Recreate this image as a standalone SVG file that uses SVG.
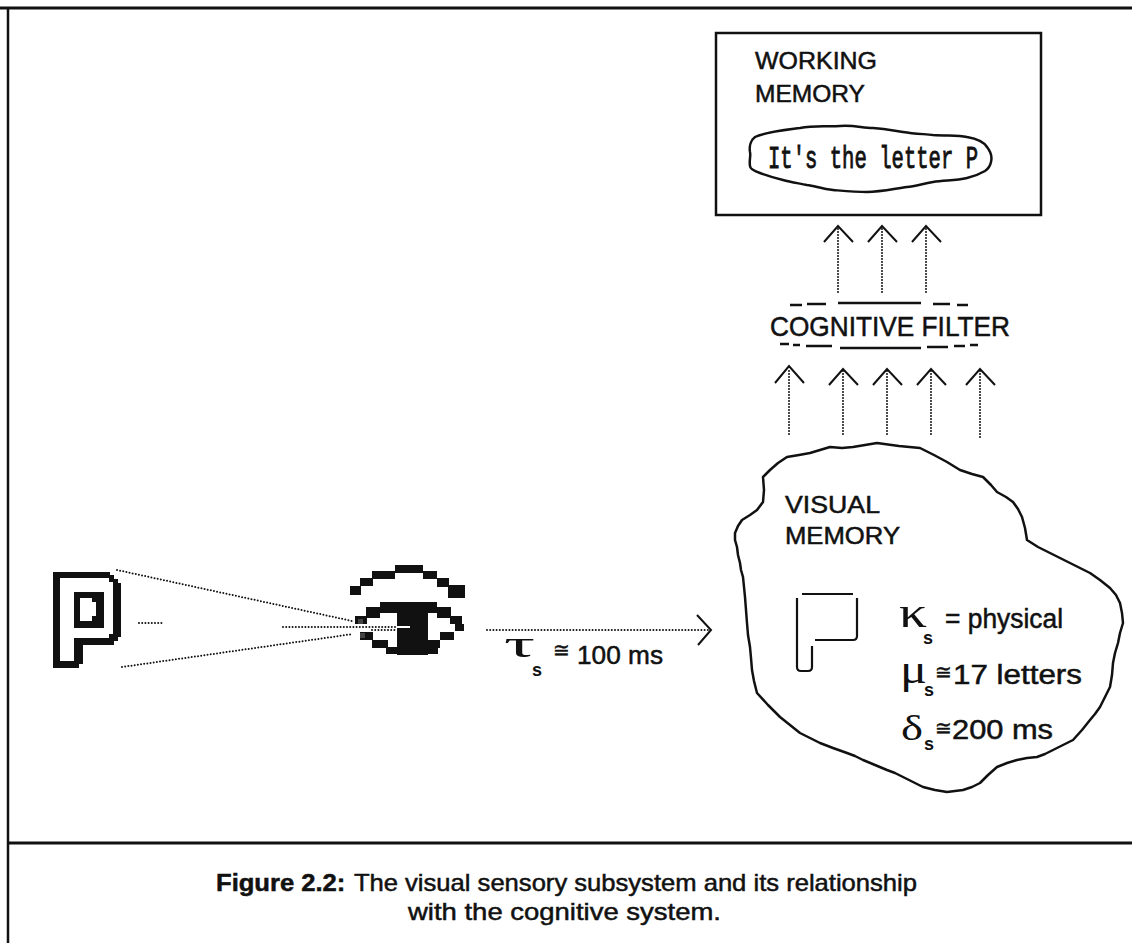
<svg xmlns="http://www.w3.org/2000/svg" width="1132" height="943" viewBox="0 0 1132 943">
<style>
.t{font-family:"Liberation Sans",Arial,sans-serif;fill:#111;stroke:#111;stroke-width:0.5}
.g{font-family:"Liberation Serif","DejaVu Serif",serif;fill:#111}
.m{font-family:"Liberation Mono","DejaVu Sans Mono",monospace;fill:#111;stroke:#111;stroke-width:0.9}
.sub{font-family:"Liberation Sans",Arial,sans-serif;font-weight:bold;font-size:18px;fill:#111}
.ln{fill:none;stroke:#111;stroke-width:2.5}
.dot{fill:none;stroke:#111;stroke-width:2;stroke-dasharray:0 3.2;stroke-linecap:round}
.vdot{fill:none;stroke:#111;stroke-width:2;stroke-dasharray:0 3;stroke-linecap:round}
.head{fill:none;stroke:#111;stroke-width:2;stroke-linejoin:miter}
.px{fill:#111}
</style>
<rect width="1132" height="943" fill="#fff"/>
<g id="frame">
<line x1="0" y1="8" x2="1132" y2="8" stroke="#111" stroke-width="3"/>
<line x1="8" y1="7" x2="8" y2="943" stroke="#111" stroke-width="2.5"/>
<line x1="8" y1="843" x2="1132" y2="843" stroke="#111" stroke-width="3"/>
</g>
<g id="working-memory">
<rect x="716" y="33" width="325" height="182" class="ln"/>
<text class="t" x="755" y="69" font-size="24" textLength="122" lengthAdjust="spacingAndGlyphs">WORKING</text>
<text class="t" x="755" y="102" font-size="24" textLength="110" lengthAdjust="spacingAndGlyphs">MEMORY</text>
<path class="ln" d="M755,137 C765,132 785,130 800,128 C815,125 828,127 840,126 C855,125 862,128 873,128 C888,129 895,131 903,132 C915,134 925,134 933,135 C948,136 958,135 967,137 C978,139 984,142 987,147 C991,152 992,158 991,162 C990,167 988,169 985,171 C978,175 972,177 967,178 C955,181 945,180 933,182 C922,184 915,186 907,187 C893,189 880,192 867,192 C855,192 845,191 833,190 C822,189 815,186 807,185 C797,183 790,182 783,180 C775,178 768,176 760,173 C754,171 750,169 750,166 C749,160 751,156 750,152 C749,146 751,140 755,137 Z"/>
<text class="m" x="768" y="168" font-size="32" textLength="210" lengthAdjust="spacingAndGlyphs">It's the letter P</text>
</g>
<g id="cognitive-filter">
<path class="ln" d="M790,305 H802 M807,304 H826 M838,303 H921 M933,304 H950 M957,305 H968"/>
<text class="t" x="770" y="336" font-size="28" textLength="240" lengthAdjust="spacingAndGlyphs">COGNITIVE FILTER</text>
<path class="ln" d="M780,344 H789 M793,345 H800 M806,346 H832 M840,348 H921 M927,347 H948 M954,346 H965 M970,345 H978"/>
</g>
<g id="visual-memory">
<path class="ln" stroke-linejoin="round" d="M763,502 L764,490 L763,477 L770,470 L778,463 L787,457 L799,455 L810,453 L820,450 L830,447 L842,448 L853,447 L865,445 L877,443 L899,446 L920,448 L934,455 L947,462 L960,470 L972,474 L983,477 L991,485 L997,492 L1006,497 L1013,502 L1018,509 L1022,517 L1025,528 L1027,540 L1038,547 L1050,553 L1060,558 L1070,563 L1080,568 L1090,573 L1100,580 L1110,588 L1116,595 L1120,603 L1122,613 L1123,623 L1120,633 L1118,643 L1115,653 L1113,663 L1112,675 L1110,687 L1105,697 L1100,707 L1095,714 L1090,720 L1082,730 L1073,740 L1063,745 L1053,750 L1045,754 L1037,757 L1027,758 L1017,760 L1007,763 L997,767 L988,775 L980,783 L972,787 L963,790 L955,791 L947,792 L935,790 L923,787 L913,782 L903,777 L895,773 L887,770 L875,765 L863,760 L855,756 L847,753 L833,748 L820,743 L810,738 L800,733 L790,725 L780,717 L768,705 L757,693 L754,681 L752,670 L751,658 L750,647 L748,635 L747,623 L746,610 L745,597 L744,587 L743,577 L741,570 L740,563 L738,555 L737,547 L735,540 L735,533 L738,526 L742,520 L750,515 L757,510 Z"/>
<text class="t" x="785" y="513" font-size="24" textLength="95" lengthAdjust="spacingAndGlyphs">VISUAL</text>
<text class="t" x="785" y="544" font-size="24" textLength="115" lengthAdjust="spacingAndGlyphs">MEMORY</text>
<path fill="none" stroke="#111" stroke-width="2.2" d="M802,594 H853 M857,598 V636 Q857,640 853,640 H815 M797,598 V667 Q797,671 801,671 H808 Q812,671 812,667 V646"/>
<text class="g" x="899" y="627" font-size="44" textLength="28" lengthAdjust="spacingAndGlyphs">κ</text>
<text class="sub" x="923" y="644">s</text>
<text class="t" x="945" y="628" font-size="27" textLength="118" lengthAdjust="spacingAndGlyphs">= physical</text>
<text class="g" x="900" y="683" font-size="40" textLength="27" lengthAdjust="spacingAndGlyphs">μ</text>
<text class="sub" x="924" y="696">s</text>
<text class="t" x="935" y="679" font-size="20">≅</text>
<text class="t" x="953" y="684" font-size="27" textLength="129" lengthAdjust="spacingAndGlyphs">17 letters</text>
<text class="g" x="901" y="740" font-size="36" textLength="22" lengthAdjust="spacingAndGlyphs">δ</text>
<text class="sub" x="924" y="750">s</text>
<text class="t" x="935" y="735" font-size="20">≅</text>
<text class="t" x="952" y="739" font-size="27" textLength="101" lengthAdjust="spacingAndGlyphs">200 ms</text>
</g>
<g id="stimulus-p">
<path class="px" d="M53,572 H110 V575 H114 V579 H118 V583 H121 V637 H118 V641 H114 V645 H83 V664 H79 V668 H53 Z"/>
<path fill="#fff" d="M60,578 H109 V582 H113 V634 H109 V638 H74 V661 H60 Z"/>
<path class="px" d="M74,592 H104 V628 H74 Z"/>
<path fill="#fff" d="M80,598 H92 V602 H96 V616 H92 V621 H80 Z"/>
</g>
<g id="eye">
<rect class="px" x="395" y="565" width="28" height="8"/>
<rect class="px" x="372" y="571" width="23" height="8"/>
<rect class="px" x="360" y="578" width="13" height="8"/>
<rect class="px" x="350" y="586" width="11" height="9"/>
<rect class="px" x="423" y="571" width="14" height="8"/>
<rect class="px" x="437" y="578" width="12" height="9"/>
<rect class="px" x="448" y="585" width="17" height="13"/>
<rect class="px" x="380" y="602" width="57" height="11"/>
<rect class="px" x="366" y="607" width="14" height="11"/>
<rect class="px" x="437" y="607" width="14" height="11"/>
<rect class="px" x="355" y="616" width="12" height="8"/>
<rect class="px" x="450" y="616" width="12" height="8"/>
<rect class="px" x="455" y="624" width="9" height="7"/>
<rect class="px" x="397" y="610" width="31" height="45"/>
<rect fill="#fff" x="396" y="626" width="14" height="2"/>
<rect class="px" x="360" y="632" width="13" height="8"/>
<rect class="px" x="440" y="632" width="14" height="8"/>
<rect class="px" x="372" y="640" width="16" height="8"/>
<rect class="px" x="423" y="640" width="17" height="8"/>
<rect class="px" x="386" y="647" width="12" height="7"/>
<rect class="px" x="427" y="647" width="11" height="7"/>
<rect x="358" y="619" width="5" height="5" fill="#444"/>
<rect x="360" y="633" width="5" height="5" fill="#444"/>
</g>
<g id="connectors">
<path class="dot" d="M117,570 L352,621"/>
<path class="dot" d="M139,623 H163"/>
<path class="dot" d="M283,627 H397"/>
<path class="dot" d="M122,667 L353,634"/>
<path class="dot" d="M372,630 H395"/>
<path class="dot" d="M487,630 H708"/>
<path class="head" d="M697,615 L711,630 L698,645"/>
<text class="g" x="504" y="657" font-size="38" textLength="31" lengthAdjust="spacingAndGlyphs">τ</text>
<text class="sub" x="532" y="676">s</text>
<text class="t" x="553" y="657" font-size="20">≅</text>
<text class="t" x="577" y="664" font-size="25" textLength="86" lengthAdjust="spacingAndGlyphs">100 ms</text>
<path class="vdot" d="M838,229 V293 M882,229 V293 M926,229 V293"/>
<path class="head" d="M824,242 L838,226 L853,242 M868,242 L882,226 L897,242 M912,242 L926,226 L941,242"/>
<path class="vdot" d="M789,371 V437 M843,371 V437 M887,371 V437 M931,371 V437 M980,371 V440"/>
<path class="head" d="M775,383 L789,366 L804,383 M829,385 L843,369 L858,385 M873,385 L887,369 L902,385 M917,385 L931,369 L946,385 M966,385 L980,369 L995,385"/>
</g>
<g id="caption">
<text class="t" x="216" y="891" font-size="24" textLength="701" lengthAdjust="spacingAndGlyphs"><tspan font-weight="bold">Figure 2.2:</tspan><tspan dx="8">The visual sensory subsystem and its relationship</tspan></text>
<text class="t" x="408" y="920" font-size="24" textLength="313" lengthAdjust="spacingAndGlyphs">with the cognitive system.</text>
</g>
</svg>
